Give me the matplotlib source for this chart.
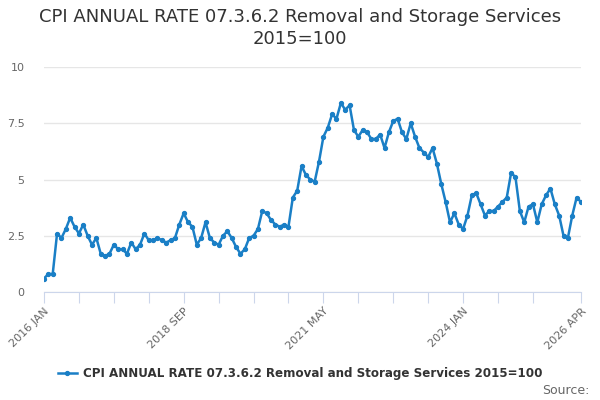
import matplotlib
matplotlib.use("Agg")
import matplotlib.pyplot as plt
import numpy as np

title = "CPI ANNUAL RATE 07.3.6.2 Removal and Storage Services\n2015=100"
series_name = "CPI ANNUAL RATE 07.3.6.2 Removal and Storage Services 2015=100"

# monthly values, 2016 JAN .. 2026 APR
values = [
    0.6, 0.8, 0.8, 2.6, 2.4, 2.8, 3.3, 2.9, 2.6, 3.0, 2.5, 2.1,
    2.4, 1.7, 1.6, 1.7, 2.1, 1.9, 1.9, 1.7, 2.2, 1.9, 2.1, 2.6,
    2.3, 2.3, 2.4, 2.3, 2.2, 2.3, 2.4, 3.0, 3.5, 3.1, 2.9, 2.1,
    2.4, 3.1, 2.4, 2.2, 2.1, 2.5, 2.7, 2.4, 2.0, 1.7, 1.9, 2.4,
    2.5, 2.8, 3.6, 3.5, 3.2, 3.0, 2.9, 3.0, 2.9, 4.2, 4.5, 5.6,
    5.2, 5.0, 4.9, 5.8, 6.9, 7.3, 7.9, 7.7, 8.4, 8.1, 8.3, 7.2,
    6.9, 7.2, 7.1, 6.8, 6.8, 7.0, 6.4, 7.1, 7.6, 7.7, 7.1, 6.8,
    7.5, 6.9, 6.4, 6.2, 6.0, 6.4, 5.7, 4.8, 4.0, 3.1, 3.5, 3.0,
    2.8, 3.4, 4.3, 4.4, 3.9, 3.4, 3.6, 3.6, 3.8, 4.0, 4.2, 5.3,
    5.1, 3.6, 3.1, 3.8, 3.9, 3.1, 3.9, 4.3, 4.6, 3.9, 3.4, 2.5,
    2.4, 3.4, 4.2, 4.0,
]
x_labels = {0: "2016 JAN", 32: "2018 SEP", 64: "2021 MAY", 96: "2024 JAN", 123: "2026 APR"}
y_ticks = [0, 2.5, 5, 7.5, 10]
y_labels = ["0", "2.5", "5", "7.5", "10"]

blue = "#1a7fc6"
x = np.arange(len(values))

fig = plt.figure(figsize=(6, 4), dpi=100)
ax = fig.add_axes([0.0733, 0.27, 0.895, 0.5625])

line, = ax.plot(x, values, color=blue, lw=1.8, marker="o", ms=2.8, zorder=3)

ax.set_xlim(0, len(values) - 1)
ax.set_ylim(0, 10)
ax.set_yticks(y_ticks)
ax.set_yticklabels(y_labels)
ax.grid(axis="y", color="#e6e6e6", lw=1)
ax.set_axisbelow(True)

ticks = list(range(0, 113, 8)) + [123]
ax.set_xticks(ticks)
ax.set_xticklabels([x_labels.get(t, "") for t in ticks])

for s in ["top", "right", "left"]:
    ax.spines[s].set_visible(False)
ax.spines["bottom"].set_color("#ccd6eb")
ax.tick_params(axis="x", length=8, color="#ccd6eb", labelsize=8, labelcolor="#666666",
               pad=2, labelrotation=45)
ax.tick_params(axis="y", length=0, labelsize=8, labelcolor="#666666", pad=14)
for lab in ax.get_xticklabels():
    lab.set_ha("right")
    lab.set_rotation_mode("anchor")

fig.text(0.5, 0.98, title, ha="center", va="top", fontsize=13, color="#333333",
         linespacing=1.3)

leg = fig.legend([line], [series_name], loc="center", bbox_to_anchor=(0.5, 0.065),
                 frameon=False, handlelength=1.6, handletextpad=0.5, fontsize=8.6)
for t in leg.get_texts():
    t.set_fontweight("bold")
    t.set_color("#333333")

fig.text(0.982, 0.025, "Source:", ha="right", va="center", fontsize=9, color="#666666")

fig.savefig("out.png", dpi=100)
